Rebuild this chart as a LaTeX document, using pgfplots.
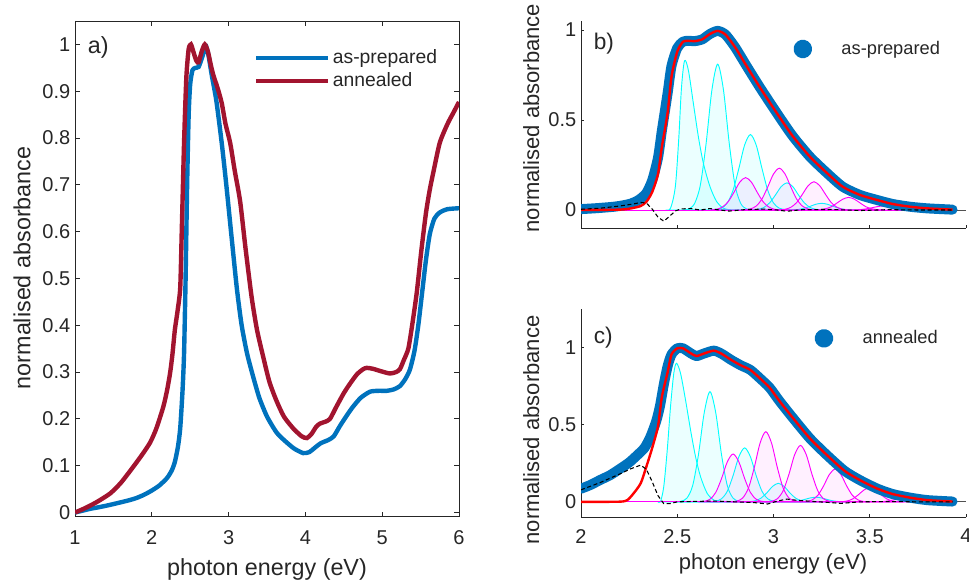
\documentclass[border=0pt]{standalone}
\usepackage{fontspec}
\setmainfont{Liberation Sans}
\usepackage{pgfplots}
\pgfplotsset{compat=1.18}

\definecolor{mblue}{RGB}{0,114,189}
\definecolor{mred}{RGB}{162,20,47}
\definecolor{axgray}{RGB}{38,38,38}
\definecolor{mcyan}{RGB}{0,255,255}
\definecolor{mmag}{RGB}{255,0,255}
\definecolor{fitred}{RGB}{255,0,0}

\pgfplotsset{
 mystyle/.style={
  scale only axis, anchor=south west,
  /pgf/number format/assume math mode=true,
  axis line style={axgray, line width=0.6pt},
  tick style={axgray, line width=0.6pt},
  tick align=inside,
  tick label style={font=\fontsize{15}{18}\selectfont, text=axgray},
  label style={text=axgray},
 },
 cyanG/.style={mcyan, line width=0.7pt, smooth, fill=mcyan, fill opacity=0.08, forget plot},
 magG/.style={mmag, line width=0.7pt, smooth, fill=mmag, fill opacity=0.06, forget plot},
 dotlegend/.style={legend image code/.code={\path[draw=none,fill=none] (0pt,0pt) -- (27pt,0pt); \fill[mblue] (0pt,0pt) circle (3.3pt);}},
}

\begin{document}
\begin{tikzpicture}
\path[use as bounding box] (0pt,0pt) rectangle (726.75pt,435.75pt);

% ---------------- panel a ----------------
\begin{axis}[mystyle, at={(56.25pt,48.2pt)}, width=288pt, height=371.8pt,
 xmin=1, xmax=6, ymin=-0.009, ymax=1.05,
 xtick={1,2,3,4,5,6}, xticklabels={1,2,3,4,5,6},
 ytick={0,0.1,0.2,0.3,0.4,0.5,0.6,0.7,0.8,0.9,1},
 yticklabels={0,0.1,0.2,0.3,0.4,0.5,0.6,0.7,0.8,0.9,1},
 xticklabel style={yshift=-7pt},
 major tick length=3.5pt,
 xlabel={photon energy (eV)}, ylabel={normalised absorbance},
 xlabel style={font=\fontsize{17.5}{21}\selectfont, at={(axis description cs:0.5,-0.1176)}, anchor=base},
 ylabel style={font=\fontsize{17.5}{21}\selectfont, at={(axis description cs:-0.1159,0.502)}, anchor=base},
 legend style={at={(0.466,0.948)}, anchor=north west, draw=none, fill=none,
   font=\fontsize{14.5}{17}\selectfont, text=axgray, row sep=1.2pt, inner sep=0pt},
 legend cell align=left,
 legend image code/.code={\draw[#1, line width=3pt] (0pt,0pt) -- (54pt,0pt);},
]
\addplot[mblue, line width=3.3pt, smooth, tension=0.4] coordinates {
(1.00,0.000) (1.10,0.004) (1.20,0.008) (1.30,0.011) (1.42,0.015) (1.55,0.020) (1.70,0.026) (1.80,0.031) (1.90,0.038) (2.00,0.047) (2.10,0.058) (2.20,0.074) (2.26,0.090) (2.30,0.108) (2.34,0.140) (2.37,0.180) (2.40,0.26) (2.42,0.34) (2.44,0.50) (2.46,0.70) (2.48,0.85) (2.50,0.915) (2.53,0.945) (2.57,0.950) (2.61,0.952) (2.65,0.97) (2.69,0.99) (2.71,0.995) (2.74,0.975) (2.78,0.935) (2.84,0.88) (2.91,0.79) (2.97,0.70) (3.05,0.57) (3.11,0.475) (3.17,0.40) (3.24,0.34) (3.32,0.29) (3.40,0.245) (3.50,0.205) (3.62,0.172) (3.72,0.155) (3.85,0.137) (3.97,0.127) (4.05,0.129) (4.12,0.138) (4.20,0.148) (4.30,0.155) (4.37,0.163) (4.45,0.185) (4.55,0.210) (4.62,0.226) (4.72,0.245) (4.84,0.258) (4.95,0.260) (5.06,0.260) (5.15,0.263) (5.23,0.270) (5.30,0.285) (5.36,0.305) (5.42,0.345) (5.47,0.40) (5.52,0.47) (5.57,0.54) (5.62,0.595) (5.68,0.628) (5.75,0.641) (5.85,0.648) (6.00,0.650)};
\addlegendentry{as-prepared}
\addplot[mred, line width=3.3pt, smooth, tension=0.4] coordinates {
(1.00,0.000) (1.10,0.007) (1.20,0.015) (1.30,0.024) (1.46,0.041) (1.60,0.064) (1.76,0.098) (1.88,0.125) (1.98,0.150) (2.06,0.180) (2.15,0.226) (2.20,0.262) (2.24,0.30) (2.27,0.34) (2.30,0.39) (2.335,0.43) (2.37,0.48) (2.39,0.60) (2.42,0.79) (2.45,0.93) (2.48,0.99) (2.51,1.0) (2.54,0.985) (2.58,0.965) (2.61,0.962) (2.65,0.985) (2.69,1.0) (2.73,0.985) (2.77,0.955) (2.80,0.935) (2.86,0.905) (2.91,0.875) (2.96,0.83) (3.02,0.79) (3.08,0.73) (3.15,0.665) (3.22,0.565) (3.30,0.46) (3.37,0.39) (3.45,0.333) (3.53,0.28) (3.62,0.240) (3.72,0.205) (3.84,0.180) (3.95,0.163) (4.02,0.159) (4.08,0.168) (4.14,0.183) (4.19,0.190) (4.26,0.194) (4.32,0.200) (4.40,0.225) (4.50,0.255) (4.58,0.275) (4.67,0.295) (4.75,0.306) (4.80,0.309) (4.88,0.307) (4.98,0.302) (5.10,0.297) (5.18,0.300) (5.23,0.306) (5.28,0.325) (5.34,0.350) (5.39,0.40) (5.45,0.47) (5.51,0.56) (5.57,0.64) (5.62,0.69) (5.67,0.73) (5.75,0.79) (5.85,0.83) (5.93,0.855) (6.00,0.877)};
\addlegendentry{annealed}
\node[anchor=base west, inner sep=0pt, font=\fontsize{17.5}{21}\selectfont, text=axgray] at (axis cs:1.165,0.981) {a)};
\end{axis}

% ---------------- panel b ----------------
\begin{axis}[mystyle, at={(435.75pt,264.75pt)}, width=288.75pt, height=155.25pt,
 xmin=2, xmax=4, ymin=-0.1, ymax=1.05,
 axis lines*=left,
 xtick={2,2.5,3,3.5,4}, xticklabels={},
 ytick={0,0.5,1}, yticklabels={0,0.5,1},
 major tick length=2.6pt,
 ylabel={normalised absorbance},
 ylabel style={font=\fontsize{16.5}{20}\selectfont, at={(axis description cs:-0.109,0.531)}, anchor=base},
 legend style={at={(0.551,0.8647)}, anchor=west, draw=none, fill=none,
   font=\fontsize{13.7}{16}\selectfont, text=axgray, inner sep=0pt},
 dotlegend,
]
\addplot[axgray!80, line width=0.6pt, forget plot] coordinates {(2,0) (4,0)};
% cyan components
\addplot[cyanG] coordinates {(2.44,0) (2.465,0.01) (2.49,0.13) (2.508,0.40) (2.522,0.68) (2.538,0.829) (2.558,0.775) (2.584,0.59) (2.61,0.405) (2.636,0.258) (2.67,0.13) (2.705,0.046) (2.74,0.01) (2.78,0)} \closedcycle;
\addplot[cyanG] coordinates {(2.53,0) (2.56,0.006) (2.59,0.036) (2.62,0.139) (2.65,0.371) (2.68,0.667) (2.71,0.81) (2.74,0.667) (2.77,0.371) (2.80,0.139) (2.83,0.036) (2.86,0.006) (2.89,0)} \closedcycle;
\addplot[cyanG] coordinates {(2.70,0.002) (2.73,0.010) (2.76,0.039) (2.79,0.110) (2.82,0.231) (2.85,0.361) (2.88,0.419) (2.91,0.361) (2.94,0.231) (2.97,0.110) (3.00,0.039) (3.03,0.010) (3.06,0.002)} \closedcycle;
\addplot[cyanG] coordinates {(2.89,0.001) (2.92,0.004) (2.95,0.014) (2.98,0.040) (3.01,0.083) (3.04,0.130) (3.07,0.151) (3.10,0.130) (3.13,0.083) (3.16,0.040) (3.19,0.014) (3.22,0.004) (3.25,0.001)} \closedcycle;
\addplot[cyanG] coordinates {(3.07,0) (3.10,0.001) (3.13,0.003) (3.16,0.010) (3.19,0.020) (3.22,0.032) (3.25,0.037) (3.28,0.032) (3.31,0.020) (3.34,0.010) (3.37,0.003) (3.40,0.001) (3.43,0)} \closedcycle;
% magenta components
\addplot[magG] coordinates {(2.675,0.001) (2.705,0.004) (2.735,0.017) (2.765,0.047) (2.795,0.099) (2.825,0.155) (2.855,0.18) (2.885,0.155) (2.915,0.099) (2.945,0.047) (2.975,0.017) (3.005,0.004) (3.035,0.001)} \closedcycle;
\addplot[magG] coordinates {(2.85,0.001) (2.88,0.006) (2.91,0.022) (2.94,0.061) (2.97,0.128) (3.00,0.200) (3.03,0.232) (3.06,0.200) (3.09,0.128) (3.12,0.061) (3.15,0.022) (3.18,0.006) (3.21,0.001)} \closedcycle;
\addplot[magG] coordinates {(3.03,0.001) (3.06,0.004) (3.09,0.015) (3.12,0.041) (3.15,0.087) (3.18,0.135) (3.21,0.157) (3.24,0.135) (3.27,0.087) (3.30,0.041) (3.33,0.015) (3.36,0.004) (3.39,0.001)} \closedcycle;
\addplot[magG] coordinates {(3.21,0) (3.24,0.002) (3.27,0.007) (3.30,0.018) (3.33,0.039) (3.36,0.060) (3.39,0.07) (3.42,0.060) (3.45,0.039) (3.48,0.018) (3.51,0.007) (3.54,0.002) (3.57,0)} \closedcycle;
\addplot[magG] coordinates {(3.39,0) (3.42,0.001) (3.45,0.002) (3.48,0.006) (3.51,0.012) (3.54,0.019) (3.57,0.022) (3.60,0.019) (3.63,0.012) (3.66,0.006) (3.69,0.002) (3.72,0.001) (3.75,0)} \closedcycle;
\addplot[mmag, line width=0.7pt, forget plot] coordinates {(2,0) (3.93,0)};
% data
\addplot[mblue, line width=7.5pt, line cap=round, line join=round, smooth, tension=0.4] coordinates {
(2.00,0.005) (2.08,0.010) (2.17,0.018) (2.22,0.026) (2.26,0.036) (2.29,0.050) (2.31,0.064) (2.34,0.095) (2.37,0.165) (2.40,0.29) (2.42,0.44) (2.45,0.65) (2.47,0.80) (2.50,0.90) (2.53,0.935) (2.56,0.94) (2.59,0.938) (2.63,0.948) (2.67,0.978) (2.71,0.995) (2.75,0.975) (2.80,0.905) (2.86,0.80) (2.93,0.68) (3.02,0.534) (3.10,0.41) (3.19,0.295) (3.28,0.203) (3.36,0.129) (3.45,0.083) (3.54,0.055) (3.62,0.033) (3.71,0.018) (3.80,0.009) (3.93,0.002)};
\addlegendentry{as-prepared}
\addplot[fitred, line width=1.8pt, smooth, tension=0.4, forget plot] coordinates {
(2.00,0) (2.20,0.002) (2.26,0.009) (2.31,0.022) (2.34,0.046) (2.37,0.10) (2.40,0.20) (2.42,0.35) (2.45,0.54) (2.47,0.74) (2.50,0.88) (2.53,0.935) (2.56,0.94) (2.59,0.938) (2.63,0.948) (2.67,0.978) (2.71,0.995) (2.75,0.975) (2.80,0.905) (2.86,0.80) (2.93,0.68) (3.02,0.534) (3.10,0.41) (3.19,0.295) (3.28,0.203) (3.36,0.129) (3.45,0.083) (3.54,0.055) (3.62,0.033) (3.71,0.018) (3.80,0.009) (3.93,0.002)};
\addplot[black, line width=0.8pt, dash pattern=on 3pt off 2pt, forget plot] coordinates {
(2.00,0.004) (2.10,0.010) (2.20,0.022) (2.27,0.033) (2.31,0.042) (2.34,0.038) (2.37,0.005) (2.40,-0.04) (2.43,-0.062) (2.46,-0.035) (2.49,-0.005) (2.52,0.006) (2.57,0.008) (2.62,0.0) (2.67,0.008) (2.72,0.0) (2.77,-0.006) (2.85,0.002) (2.95,0.005) (3.02,0.0) (3.07,-0.007) (3.15,0.002) (3.30,0.003) (3.45,-0.003) (3.60,0.002) (3.75,0.0) (3.93,0.0)};
\node[anchor=base west, inner sep=0pt, font=\fontsize{17}{20}\selectfont, text=axgray] at (axis cs:2.065,0.89) {b)};
\end{axis}

% ---------------- panel c ----------------
\begin{axis}[mystyle, at={(435.75pt,47.8pt)}, width=288.75pt, height=156.2pt,
 xmin=2, xmax=4, ymin=-0.1, ymax=1.25,
 axis lines*=left,
 xtick={2,2.5,3,3.5,4}, xticklabels={2,2.5,3,3.5,4},
 xticklabel style={yshift=-5.3pt},
 ytick={0,0.5,1}, yticklabels={0,0.5,1},
 major tick length=2.6pt,
 xlabel={photon energy (eV)}, ylabel={normalised absorbance},
 xlabel style={font=\fontsize{16.5}{20}\selectfont, at={(axis description cs:0.499,-0.253)}, anchor=base},
 ylabel style={font=\fontsize{16.5}{20}\selectfont, at={(axis description cs:-0.109,0.419)}, anchor=base},
 legend style={at={(0.606,0.859)}, anchor=west, draw=none, fill=none,
   font=\fontsize{13.7}{16}\selectfont, text=axgray, inner sep=0pt},
 dotlegend,
]
\addplot[axgray!80, line width=0.6pt, forget plot] coordinates {(2,0) (4,0)};
% cyan components
\addplot[cyanG] coordinates {(2.40,0) (2.413,0.002) (2.43,0.10) (2.448,0.336) (2.465,0.617) (2.482,0.833) (2.496,0.898) (2.517,0.833) (2.543,0.66) (2.569,0.466) (2.595,0.293) (2.621,0.163) (2.655,0.056) (2.69,0.012) (2.725,0)} \closedcycle;
\addplot[cyanG] coordinates {(2.49,0) (2.52,0.004) (2.55,0.024) (2.58,0.105) (2.61,0.305) (2.64,0.577) (2.67,0.714) (2.70,0.577) (2.73,0.305) (2.76,0.105) (2.79,0.024) (2.82,0.004) (2.85,0)} \closedcycle;
\addplot[cyanG] coordinates {(2.67,0.001) (2.70,0.004) (2.73,0.020) (2.76,0.069) (2.79,0.170) (2.82,0.292) (2.85,0.35) (2.88,0.292) (2.91,0.170) (2.94,0.069) (2.97,0.020) (3.00,0.004) (3.03,0.001)} \closedcycle;
\addplot[cyanG] coordinates {(2.845,0) (2.875,0.001) (2.905,0.007) (2.935,0.024) (2.965,0.058) (2.995,0.100) (3.025,0.12) (3.055,0.100) (3.085,0.058) (3.115,0.024) (3.145,0.007) (3.175,0.001) (3.205,0)} \closedcycle;
\addplot[cyanG] coordinates {(3.04,0) (3.07,0) (3.10,0.002) (3.13,0.006) (3.16,0.015) (3.19,0.025) (3.22,0.03) (3.25,0.025) (3.28,0.015) (3.31,0.006) (3.34,0.002) (3.37,0) (3.40,0)} \closedcycle;
% magenta components
\addplot[magG] coordinates {(2.61,0) (2.64,0.003) (2.67,0.017) (2.70,0.061) (2.73,0.151) (2.76,0.259) (2.79,0.31) (2.82,0.259) (2.85,0.151) (2.88,0.061) (2.91,0.017) (2.94,0.003) (2.97,0)} \closedcycle;
\addplot[magG] coordinates {(2.78,0.001) (2.81,0.005) (2.84,0.025) (2.87,0.090) (2.90,0.222) (2.93,0.380) (2.96,0.455) (2.99,0.380) (3.02,0.222) (3.05,0.090) (3.08,0.025) (3.11,0.005) (3.14,0.001)} \closedcycle;
\addplot[magG] coordinates {(2.96,0.001) (2.99,0.004) (3.02,0.020) (3.05,0.072) (3.08,0.178) (3.11,0.306) (3.14,0.366) (3.17,0.306) (3.20,0.178) (3.23,0.072) (3.26,0.020) (3.29,0.004) (3.32,0.001)} \closedcycle;
\addplot[magG] coordinates {(3.14,0) (3.17,0.002) (3.20,0.012) (3.23,0.042) (3.26,0.103) (3.29,0.177) (3.32,0.212) (3.35,0.177) (3.38,0.103) (3.41,0.042) (3.44,0.012) (3.47,0.002) (3.50,0)} \closedcycle;
\addplot[magG] coordinates {(3.32,0) (3.35,0.001) (3.38,0.005) (3.41,0.018) (3.44,0.045) (3.47,0.077) (3.50,0.092) (3.53,0.077) (3.56,0.045) (3.59,0.018) (3.62,0.005) (3.65,0.001) (3.68,0)} \closedcycle;
\addplot[magG] coordinates {(3.495,0) (3.525,0) (3.555,0.001) (3.585,0.004) (3.615,0.011) (3.645,0.018) (3.675,0.022) (3.705,0.018) (3.735,0.011) (3.765,0.004) (3.795,0.001) (3.825,0) (3.855,0)} \closedcycle;
\addplot[mmag, line width=0.7pt, forget plot] coordinates {(2,0) (3.93,0)};
% data
\addplot[mblue, line width=7.5pt, line cap=round, line join=round, smooth, tension=0.4] coordinates {
(2.00,0.085) (2.05,0.11) (2.10,0.142) (2.15,0.172) (2.20,0.212) (2.25,0.255) (2.29,0.30) (2.33,0.35) (2.36,0.42) (2.39,0.52) (2.41,0.62) (2.43,0.76) (2.45,0.88) (2.47,0.955) (2.50,0.995) (2.53,0.995) (2.57,0.963) (2.60,0.945) (2.64,0.962) (2.69,0.98) (2.73,0.96) (2.78,0.92) (2.83,0.885) (2.88,0.855) (2.93,0.80) (2.98,0.74) (3.03,0.655) (3.10,0.545) (3.19,0.41) (3.28,0.30) (3.37,0.20) (3.45,0.14) (3.54,0.085) (3.62,0.05) (3.71,0.027) (3.80,0.011) (3.93,0.002)};
\addlegendentry{annealed}
\addplot[fitred, line width=1.8pt, smooth, tension=0.4, forget plot] coordinates {
(2.00,0) (2.20,0.001) (2.24,0.011) (2.27,0.05) (2.31,0.12) (2.34,0.23) (2.37,0.35) (2.40,0.49) (2.42,0.68) (2.45,0.84) (2.47,0.955) (2.50,0.995) (2.53,0.995) (2.57,0.963) (2.60,0.945) (2.64,0.962) (2.69,0.98) (2.73,0.96) (2.78,0.92) (2.83,0.885) (2.88,0.855) (2.93,0.80) (2.98,0.74) (3.03,0.655) (3.10,0.545) (3.19,0.41) (3.28,0.30) (3.37,0.20) (3.45,0.14) (3.54,0.085) (3.62,0.05) (3.71,0.027) (3.80,0.011) (3.93,0.002)};
\addplot[black, line width=0.8pt, dash pattern=on 3pt off 2pt, forget plot] coordinates {
(2.00,0.078) (2.10,0.125) (2.20,0.180) (2.26,0.215) (2.31,0.238) (2.34,0.21) (2.37,0.13) (2.40,0.04) (2.43,-0.012) (2.46,-0.012) (2.50,0.0) (2.60,0.003) (2.70,0.005) (2.80,0.0) (2.90,-0.005) (2.97,-0.014) (3.02,0.005) (3.07,0.018) (3.12,0.01) (3.20,0.003) (3.30,-0.005) (3.35,-0.01) (3.45,0.0) (3.60,0.002) (3.75,0.0) (3.93,0.0)};
\node[anchor=base west, inner sep=0pt, font=\fontsize{17}{20}\selectfont, text=axgray] at (axis cs:2.065,1.028) {c)};
\end{axis}
\end{tikzpicture}
\end{document}
